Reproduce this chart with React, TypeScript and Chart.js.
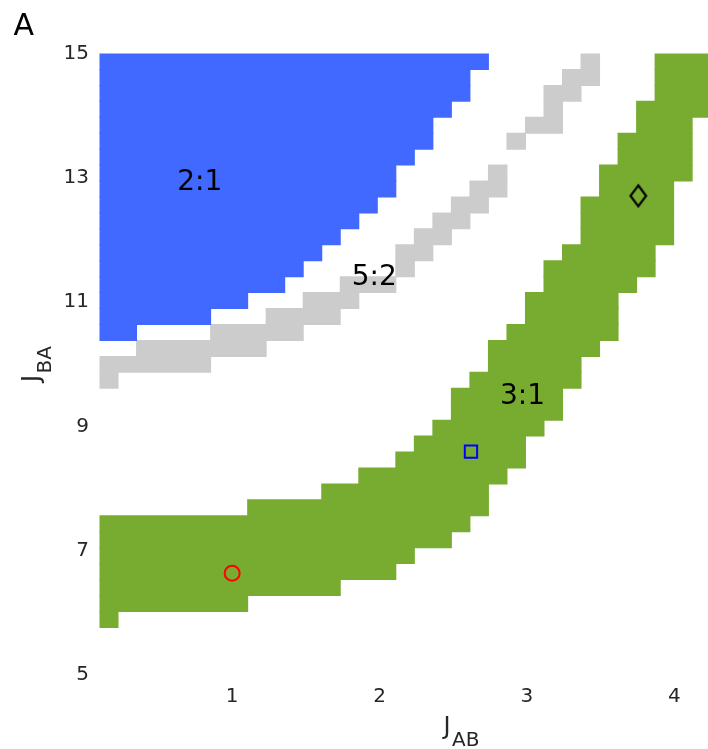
import React, { useEffect, useRef } from "react";
import { Chart, registerables } from "chart.js";

Chart.register(...registerables);

// pcolor grid: 40 samples of J_AB over [0.1, 5] and of J_BA over [5, 15] -> 39 x 39 cells
const JAB_START = 0.1;
const JAB_END = 5;
const JBA_START = 5;
const JBA_END = 15;
const GRID_POINTS = 40;

// visible window and ticks
const X_MIN = 0.1;
const X_MAX = 4.228;
const Y_MIN = 5;
const Y_MAX = 15;
const X_TICKS = [1, 2, 3, 4];
const Y_TICKS = [5, 7, 9, 11, 13, 15];

// Locking regions, one run of cells per J_BA row.
// ROWS: J_BA cell index (0 = lowest), FROM: first J_AB cell, TO: J_AB cell after the last one.
const LOCK_21_ROWS = [38, 37, 36, 35, 34, 33, 32, 31, 30, 29, 28, 27, 26, 25, 24, 23, 22, 21];
const LOCK_21_FROM = [0, 0, 0, 0, 0, 0, 0, 0, 0, 0, 0, 0, 0, 0, 0, 0, 0, 0];
const LOCK_21_TO = [21, 20, 20, 19, 18, 18, 17, 16, 16, 15, 14, 13, 12, 11, 10, 8, 6, 2];

const LOCK_52_ROWS = [38, 37, 36, 35, 34, 33, 31, 30, 29, 28, 27, 26, 25, 24, 23, 22, 21, 20, 19, 18];
const LOCK_52_FROM = [26, 25, 24, 24, 23, 22, 21, 20, 19, 18, 17, 16, 16, 13, 11, 9, 6, 2, 0, 0];
const LOCK_52_TO = [27, 27, 26, 25, 25, 23, 22, 22, 21, 20, 19, 18, 17, 16, 14, 13, 11, 9, 6, 1];

const LOCK_31_ROWS = [
  38, 37, 36, 35, 34, 33, 32, 31, 30, 29, 28, 27, 26, 25, 24, 23, 22, 21,
  20, 19, 18, 17, 16, 15, 14, 13, 12, 11, 10, 9, 8, 7, 6, 5, 4, 3,
];
const LOCK_31_FROM = [
  30, 30, 30, 29, 29, 28, 28, 27, 27, 26, 26, 26, 25, 24, 24, 23, 23, 22,
  21, 21, 20, 19, 19, 18, 17, 16, 14, 12, 8, 0, 0, 0, 0, 0, 0, 0,
];
const LOCK_31_TO = [
  33, 33, 33, 33, 32, 32, 32, 32, 31, 31, 31, 31, 30, 30, 29, 28, 28, 28,
  27, 26, 26, 25, 25, 24, 23, 23, 22, 21, 21, 20, 19, 17, 16, 13, 8, 1,
];

// example parameter sets
const MARKER_JAB = [1.0, 2.62, 3.755];
const MARKER_JBA = [6.64, 8.595, 12.71];

// region names
const LABEL_TEXT = ["2:1", "5:2", "3:1"];
const LABEL_JAB = [0.78, 1.964, 2.97];
const LABEL_JBA = [12.97, 11.44, 9.53];

const FONT = '"DejaVu Sans", "Noto Sans", sans-serif';
const AXIS_GREY = "#262626";

const DX = (JAB_END - JAB_START) / (GRID_POINTS - 1);
const DY = (JBA_END - JBA_START) / (GRID_POINTS - 1);

function cellRuns(rows: number[], from: number[], to: number[]) {
  return rows.map((r, i) => ({
    x: [JAB_START + from[i] * DX, JAB_START + to[i] * DX],
    y: JBA_START + (r + 0.5) * DY,
  }));
}

function regionDataset(rows: number[], from: number[], to: number[], color: string) {
  return {
    type: "bar" as const,
    indexAxis: "y" as const,
    grouped: false,
    barPercentage: 1,
    categoryPercentage: 1,
    inflateAmount: 0.5,
    backgroundColor: color,
    borderWidth: 0,
    clip: 0,
    order: 2,
    data: cellRuns(rows, from, to),
  };
}

function diamondCanvas(): HTMLCanvasElement {
  const c = document.createElement("canvas");
  c.width = 22;
  c.height = 28;
  const g = c.getContext("2d")!;
  g.strokeStyle = "#000";
  g.lineWidth = 2.2;
  g.lineJoin = "miter";
  g.beginPath();
  g.moveTo(11, 3.5);
  g.lineTo(18.8, 14);
  g.lineTo(11, 24.5);
  g.lineTo(3.2, 14);
  g.closePath();
  g.stroke();
  return c;
}

function drawSubscripted(
  ctx: CanvasRenderingContext2D,
  main: string,
  sub: string,
  x: number,
  y: number,
  vertical: boolean
) {
  ctx.save();
  ctx.translate(x, y);
  if (vertical) ctx.rotate(-Math.PI / 2);
  ctx.fillStyle = AXIS_GREY;
  ctx.textAlign = "left";
  ctx.textBaseline = "alphabetic";
  ctx.font = `24px ${FONT}`;
  ctx.fillText(main, 0, 0);
  const w = ctx.measureText(main).width;
  ctx.font = `20px ${FONT}`;
  ctx.fillText(sub, w + 1.5, 12);
  ctx.restore();
}

const textPlugin = {
  id: "phaseText",
  afterDatasetsDraw(chart: any) {
    const { ctx } = chart;
    const xs = chart.scales.x;
    const ys = chart.scales.y;
    ctx.save();
    ctx.fillStyle = "#000";
    ctx.font = `28px ${FONT}`;
    ctx.textAlign = "center";
    ctx.textBaseline = "alphabetic";
    LABEL_TEXT.forEach((t, i) => {
      ctx.fillText(t, xs.getPixelForValue(LABEL_JAB[i]), ys.getPixelForValue(LABEL_JBA[i]) + 0.3645 * 28);
    });
    ctx.restore();
  },
  afterDraw(chart: any) {
    const { ctx } = chart;
    ctx.save();
    ctx.fillStyle = "#000";
    ctx.font = `30px ${FONT}`;
    ctx.textAlign = "left";
    ctx.textBaseline = "alphabetic";
    ctx.fillText("A", 13.5, 34.5);
    ctx.restore();
    drawSubscripted(ctx, "J", "AB", 443.5, 734, false);
    drawSubscripted(ctx, "J", "BA", 39, 382, true);
  },
};

export default function App() {
  const canvasRef = useRef<HTMLCanvasElement>(null);

  useEffect(() => {
    const canvas = canvasRef.current;
    if (!canvas) return;

    const markers = [
      {
        type: "scatter" as const,
        order: 0,
        data: [{ x: MARKER_JAB[0], y: MARKER_JBA[0] }],
        pointStyle: "circle",
        pointRadius: 7.5,
        borderColor: "#ff0000",
        backgroundColor: "rgba(0,0,0,0)",
        borderWidth: 2,
      },
      {
        type: "scatter" as const,
        order: 0,
        data: [{ x: MARKER_JAB[1], y: MARKER_JBA[1] }],
        pointStyle: "rect",
        pointRadius: 8.7,
        borderColor: "#0000ff",
        backgroundColor: "rgba(0,0,0,0)",
        borderWidth: 2,
      },
      {
        type: "scatter" as const,
        order: 0,
        data: [{ x: MARKER_JAB[2], y: MARKER_JBA[2] }],
        pointStyle: diamondCanvas(),
        pointRadius: 10,
      },
    ];

    const chart = new Chart(canvas, {
      type: "scatter",
      data: {
        datasets: [
          ...markers,
          regionDataset(LOCK_21_ROWS, LOCK_21_FROM, LOCK_21_TO, "#4169ff"),
          regionDataset(LOCK_52_ROWS, LOCK_52_FROM, LOCK_52_TO, "#cccccc"),
          regionDataset(LOCK_31_ROWS, LOCK_31_FROM, LOCK_31_TO, "#77ac30"),
        ] as any,
      },
      options: {
        responsive: false,
        animation: false,
        events: [],
        layout: { autoPadding: false, padding: { left: 0, right: 0, top: 53.5, bottom: 0 } },
        plugins: { legend: { display: false }, tooltip: { enabled: false } },
        scales: {
          x: {
            type: "linear",
            min: X_MIN,
            max: X_MAX,
            offset: false,
            grid: { display: false, drawTicks: false },
            border: { display: false },
            afterBuildTicks: (s: any) => {
              s.ticks = X_TICKS.map((v) => ({ value: v }));
            },
            afterFit: (s: any) => {
              s.height = 73.8;
              s.paddingLeft = 0;
              s.paddingRight = 0;
            },
            ticks: {
              padding: 9.5,
              color: AXIS_GREY,
              font: { family: FONT, size: 20 },
              maxRotation: 0,
              autoSkip: false,
            },
          },
          y: {
            type: "linear",
            min: Y_MIN,
            max: Y_MAX,
            offset: false,
            grid: { display: false, drawTicks: false },
            border: { display: false },
            afterBuildTicks: (s: any) => {
              s.ticks = Y_TICKS.map((v) => ({ value: v }));
            },
            afterFit: (s: any) => {
              s.width = 99.5;
              s.paddingTop = 0;
              s.paddingBottom = 0;
            },
            ticks: {
              padding: 10.5,
              color: AXIS_GREY,
              font: { family: FONT, size: 20 },
              autoSkip: false,
            },
          },
        },
      },
      plugins: [textPlugin],
    });

    return () => chart.destroy();
  }, []);

  return (
    <div style={{ position: "absolute", left: 0, top: 0, width: 708, height: 749, background: "#fff" }}>
      <canvas ref={canvasRef} width={708} height={749} style={{ display: "block", width: 708, height: 749 }} />
    </div>
  );
}
